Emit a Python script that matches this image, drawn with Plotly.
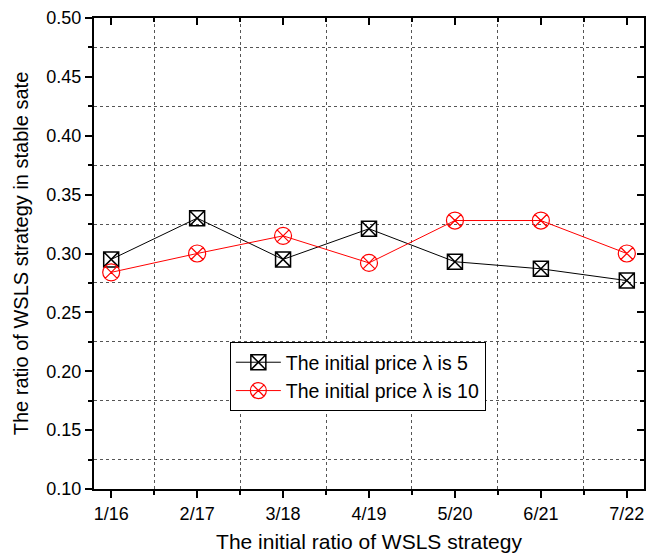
import plotly.graph_objects as go

categories = ["1/16", "2/17", "3/18", "4/19", "5/20", "6/21", "7/22"]
lambda5 = [0.295, 0.330, 0.295, 0.321, 0.293, 0.287, 0.277]
lambda10 = [0.284, 0.300, 0.315, 0.292, 0.328, 0.328, 0.300]
names = ["The initial price \u03bb is 5", "The initial price \u03bb is 10"]
y_ticks = [0.10, 0.15, 0.20, 0.25, 0.30, 0.35, 0.40, 0.45, 0.50]

xi = list(range(len(categories)))
FONT = "Liberation Sans, Arial, sans-serif"

fig = go.Figure()
fig.add_trace(go.Scatter(
    x=xi, y=lambda5, mode="lines+markers", name=names[0],
    line=dict(color="black", width=1),
    marker=dict(symbol="square-x-open", size=15, color="black", line=dict(width=1.5)),
))
fig.add_trace(go.Scatter(
    x=xi, y=lambda10, mode="lines+markers", name=names[1],
    line=dict(color="red", width=1),
    marker=dict(symbol="circle-x-open", size=17, color="red", line=dict(width=1.2)),
))

xr = [-0.2, 6.2]
yr = [0.10, 0.50]
grid = dict(showgrid=True, gridcolor="#555555", griddash="dot", gridwidth=1)

fig.update_layout(
    width=655, height=555,
    margin=dict(l=94, r=11, t=18, b=66),
    plot_bgcolor="white", paper_bgcolor="white",
    font=dict(family=FONT, size=18, color="black"),
    showlegend=True,
    legend=dict(
        x=0.247, y=0.312, xanchor="left", yanchor="top",
        bgcolor="white", bordercolor="black", borderwidth=1,
        font=dict(size=19.5, family=FONT, color="black"), itemwidth=45, tracegroupgap=0,
    ),
    xaxis=dict(
        range=xr, tickmode="array", tickvals=xi, ticktext=categories,
        showgrid=False, zeroline=False, automargin=False,
        showline=True, linecolor="black", linewidth=2,
        ticks="outside", ticklen=7, tickwidth=2, tickcolor="black",
        minor=dict(tick0=0.5, dtick=1, ticks="outside", ticklen=4, tickwidth=1.5,
                   tickcolor="black", **grid),
        title=dict(text="The initial ratio of WSLS strategy",
                   font=dict(size=21, color="black"), standoff=12),
        tickfont=dict(size=18, color="black"),
    ),
    yaxis=dict(
        range=yr, tickmode="array", tickvals=y_ticks,
        ticktext=[f"{v:.2f}" for v in y_ticks],
        showgrid=False, zeroline=False, automargin=False,
        showline=True, linecolor="black", linewidth=2,
        ticks="outside", ticklen=7, tickwidth=2, tickcolor="black",
        minor=dict(tick0=0.125, dtick=0.05, ticks="outside", ticklen=4, tickwidth=1.5,
                   tickcolor="black", **grid),
        title=dict(text="The ratio of WSLS strategy in stable sate",
                   font=dict(size=20, color="black"), standoff=12),
        tickfont=dict(size=18, color="black"),
    ),
    xaxis2=dict(
        range=xr, overlaying="x", side="top", showticklabels=False,
        tickmode="array", tickvals=xi, showgrid=False, zeroline=False,
        showline=True, linecolor="black", linewidth=2,
        ticks="inside", ticklen=7, tickwidth=2, tickcolor="black",
        minor=dict(tick0=0.5, dtick=1, ticks="inside", ticklen=4, tickwidth=1.5, tickcolor="black"),
    ),
    yaxis2=dict(
        range=yr, overlaying="y", side="right", showticklabels=False,
        tickmode="array", tickvals=y_ticks, showgrid=False, zeroline=False,
        showline=True, linecolor="black", linewidth=2,
        ticks="inside", ticklen=7, tickwidth=2, tickcolor="black",
        minor=dict(tick0=0.125, dtick=0.05, ticks="inside", ticklen=4, tickwidth=1.5, tickcolor="black"),
    ),
)

fig.add_trace(go.Scatter(x=[None], y=[None], xaxis="x2", yaxis="y2", showlegend=False, hoverinfo="skip"))

fig.write_html("out.html")
